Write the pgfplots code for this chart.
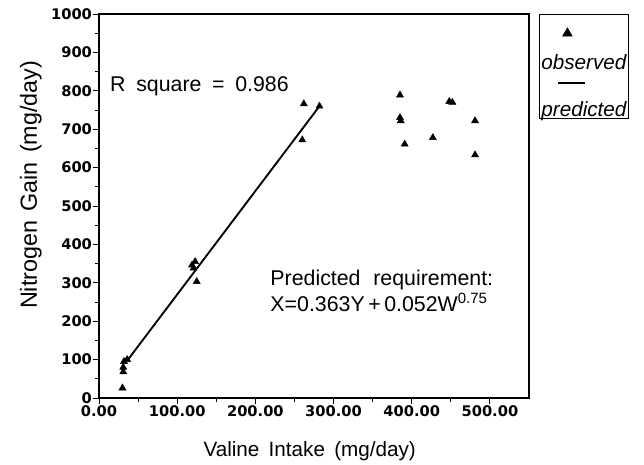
\documentclass[border=0pt]{standalone}
\usepackage{fontspec}
\setmainfont{Liberation Sans}
\newfontfamily\tickfont{DejaVu Sans}
\usepackage{pgfplots}
\pgfplotsset{compat=1.18}

\begin{document}
\begin{tikzpicture}
\begin{axis}[
  scale only axis,
  width=322.5pt, height=288pt,
  xmin=0, xmax=550,
  ymin=0, ymax=1000,
  xtick={0,100,...,500},
  ytick={0,100,...,1000},
  minor tick num=1,
  tick pos=left,
  tick align=outside,
  major tick length=4.5pt,
  minor tick length=3pt,
  tick style={black, line width=0.6pt},
  axis line style={line width=0.8pt},
  /pgf/number format/assume math mode=true,
  /pgf/number format/1000 sep={},
  xticklabel={\pgfmathprintnumber[fixed,fixed zerofill,precision=2]{\tick}},
  tick label style={font=\tickfont\bfseries\fontsize{11}{13}\selectfont},
  yticklabel style={inner xsep=0.6pt},
  xticklabel style={inner ysep=1.2pt},
  xlabel={Valine\hspace{0.45em}Intake\hspace{0.45em}(mg/day)},
  ylabel={Nitrogen\hspace{0.4em}Gain\hspace{0.4em}(mg/day)},
  xlabel style={font=\fontsize{15.5}{18}\selectfont,
    at={(axis description cs:0.49,-0.1536)}, anchor=base},
  ylabel style={font=\fontsize{17.5}{20}\selectfont,
    at={(axis description cs:-0.1442,0.555)}, anchor=base},
  clip=false,
  legend style={
    at={(axis description cs:1.0233,1.0)}, anchor=north west,
    draw=black, line width=0.6pt,
    inner xsep=1.5pt, inner ysep=0pt,
    font=\itshape\fontsize{15.5}{18}\selectfont,
    nodes={inner sep=0pt},
    /tikz/column sep=0pt, /tikz/row sep=0pt,
  },
  legend cell align=left,
]
% observed
\addplot[only marks, mark=triangle*, mark size=3pt, black, forget plot]
  coordinates {
    (30,26)(31,68)(31,80)(32,95)(36,100)
    (119,346)(121,338)(123,355)(125,303)
    (260,672)(262,766)(282,760)
    (385,789)(385,730)(386,722)(391,661)(427,678)
    (448,772)(452,770)(481,722)(481,633)
  };
% predicted
\addplot[black, line width=1.4pt, forget plot]
  coordinates {(36,97)(282,760)};

\addlegendimage{legend image code/.code={
  \path[overlay, black, mark=triangle*, mark size=4pt] plot coordinates {(19.5pt,0pt)};}}
\addlegendentry{\rule{0pt}{27pt}}
\addlegendimage{empty legend}
\addlegendentry{\rule[-4pt]{0pt}{17pt}observed}
\addlegendimage{legend image code/.code={
  \draw[overlay, black, line width=1.4pt] (12.75pt,0pt) -- (33pt,0pt);}}
\addlegendentry{\rule{0pt}{16pt}}
\addlegendimage{empty legend}
\addlegendentry{\rule[-8pt]{0pt}{24pt}predicted}

\node[anchor=base west, inner sep=0pt, font=\fontsize{16}{19}\selectfont]
  at (axis cs:14,797) {R\hspace{0.5em}square\hspace{0.5em}=\hspace{0.5em}0.986};
\node[anchor=base west, inner sep=0pt, font=\fontsize{16}{19}\selectfont]
  at (axis cs:219,294) {Predicted\hspace{0.6em}requirement:};
\node[anchor=base west, inner sep=0pt, font=\fontsize{16}{19}\selectfont]
  at (axis cs:219,224) {X=0.363Y\,+\,0.052W\textsuperscript{0.75}};
\end{axis}
\pgfresetboundingbox
\path[use as bounding box] (-74.25pt,-50.25pt) rectangle (408.75pt,298.5pt);
\end{tikzpicture}
\end{document}
